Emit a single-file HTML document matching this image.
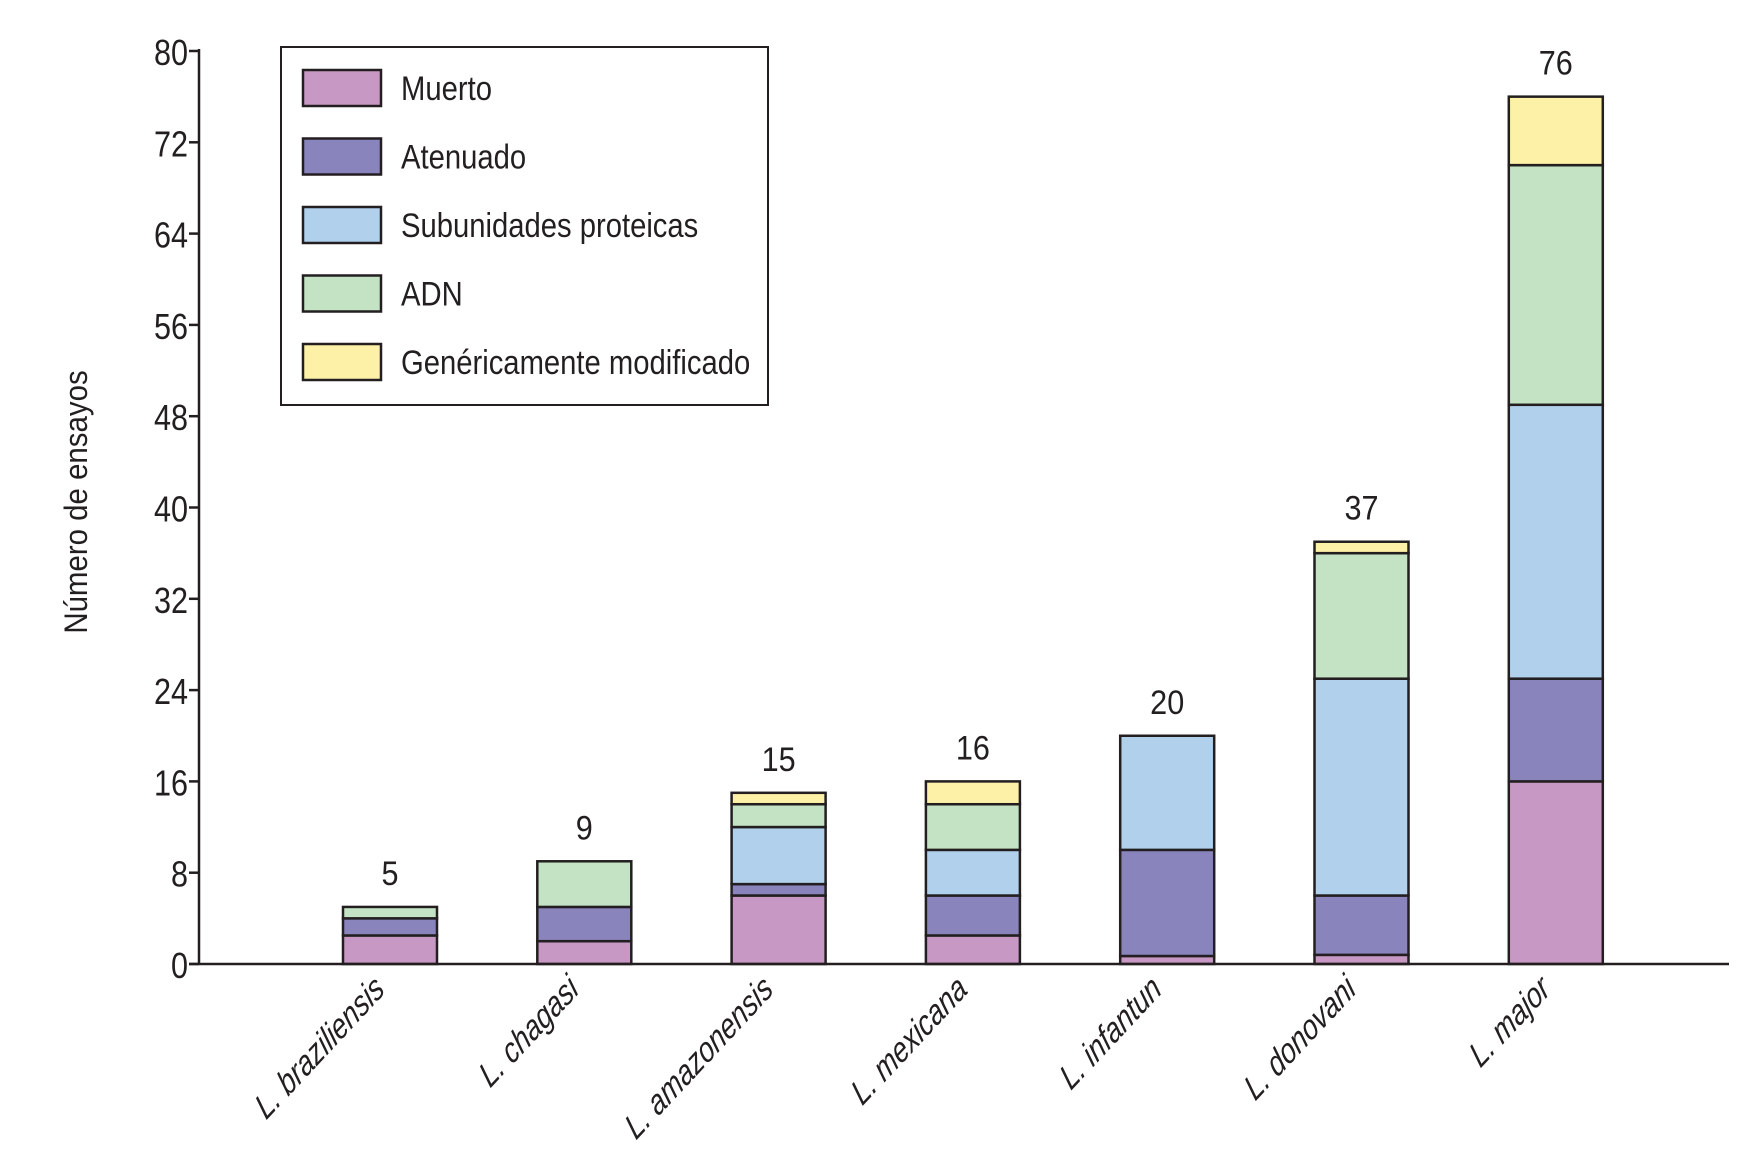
<!DOCTYPE html>
<html><head><meta charset="utf-8"><style>
html,body{margin:0;padding:0;background:#fff;}
svg text{font-family:"Liberation Sans Narrow","Liberation Sans",sans-serif;fill:#231f20;}
</style></head><body>
<svg id="chart" width="1762" height="1145" viewBox="0 0 1762 1145" xmlns="http://www.w3.org/2000/svg"></svg>
<script>
const categories=["L. braziliensis","L. chagasi","L. amazonensis","L. mexicana","L. infantun","L. donovani","L. major"];
const seriesNames=["Muerto","Atenuado","Subunidades proteicas","ADN","Genéricamente modificado"];
const muerto=[2.5,2,6,2.5,0.7,0.8,16];
const atenuado=[1.5,3,1,3.5,9.3,5.2,9];
const subunidades=[0,0,5,4,10,19,24];
const adn=[1,4,2,4,0,11,21];
const genetico=[0,0,1,2,0,1,6];
const totals=[5,9,15,16,20,37,76];
const yTicks=[0,8,16,24,32,40,48,56,64,72,80];
const colors=["#c898c4","#8a84bd","#b0d0ec","#c4e3c4","#fdf1a8"];
const series=[muerto,atenuado,subunidades,adn,genetico];

const NS="http://www.w3.org/2000/svg";
const svg=document.getElementById('chart');
const X0=199,X1=1729,Y0=964,Y80=51;
const y=v=>Y0-(v/80)*(Y0-Y80);
const x=i=>390+i*194.3;
const BW=94;
const SX=0.86;
function mk(tag,attrs,parent){const e=document.createElementNS(NS,tag);for(const k in attrs)e.setAttribute(k,attrs[k]);(parent||svg).appendChild(e);return e;}

categories.forEach((c,i)=>{
  const g=mk('g',{});
  
  
  let acc=0;
  series.forEach((s,j)=>{
    const v=s[i]; if(v<=0) return;
    const r=mk('rect',{x:x(i)-BW/2,y:y(acc+v),width:BW,height:y(acc)-y(acc+v),fill:colors[j],stroke:'#231f20','stroke-width':2.5},g);
    
    
    acc+=v;
  });
  const t=mk('text',{x:0,y:0,'text-anchor':'middle','font-size':34,transform:`translate(${x(i)},${y(totals[i])-22}) scale(0.9,1)`},g);
  t.textContent=totals[i];
  
  
  const l=mk('text',{x:0,y:0,'text-anchor':'end','font-size':33,'font-style':'italic',transform:`translate(${x(i)-4},${992}) rotate(-47) skewX(-12) scale(0.88,1)`});
  l.textContent=c;
  
  
});

const ax=mk('line',{x1:X0,y1:Y80-2,x2:X0,y2:Y0,stroke:'#231f20','stroke-width':2.5});


const bx=mk('line',{x1:X0-10,y1:Y0,x2:X1,y2:Y0,stroke:'#231f20','stroke-width':2.5});


yTicks.forEach(v=>{
  const tk=mk('line',{x1:X0-10,y1:y(v),x2:X0,y2:y(v),stroke:'#231f20','stroke-width':2.5});
  
  
  const t=mk('text',{x:0,y:0,'text-anchor':'end','font-size':36,transform:`translate(${X0-11},${y(v)+14}) scale(0.85,1)`});
  t.textContent=v;
  
  
});
const yt=mk('text',{x:0,y:0,'text-anchor':'middle','font-size':32,transform:'translate(87,502) rotate(-90) scale(0.92,1)'});
yt.textContent='Número de ensayos';



const lg=mk('g',{});


mk('rect',{x:281,y:47,width:487,height:358,fill:'#fff',stroke:'#231f20','stroke-width':2},lg);
seriesNames.forEach((n,j)=>{
  const cy=88+j*68.5;
  const e=mk('g',{},lg);
  
  
  mk('rect',{x:303,y:cy-18,width:78,height:36,fill:colors[j],stroke:'#231f20','stroke-width':2.5},e);
  const t=mk('text',{x:0,y:0,'font-size':34,transform:`translate(401,${cy+12}) scale(${SX},1)`},e);
  t.textContent=n;
});
</script>
</body></html>
